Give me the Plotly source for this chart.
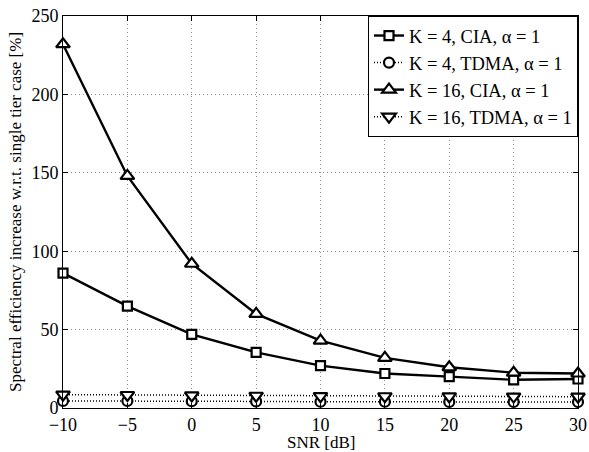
import plotly.graph_objects as go

snr = [-10, -5, 0, 5, 10, 15, 20, 25, 30]
k4_cia = [86, 65, 47, 35.5, 27, 22, 20, 18, 18.5]
k4_tdma = [4.5, 4.5, 4.3, 4.2, 4.0, 4.0, 3.9, 3.9, 3.8]
k16_cia = [232, 148, 92, 60, 43, 32, 26, 22.5, 22]
k16_tdma = [8.5, 8.3, 8.0, 7.8, 7.6, 7.5, 7.4, 7.3, 7.2]

names = ["K = 4, CIA, α = 1", "K = 4, TDMA, α = 1",
         "K = 16, CIA, α = 1", "K = 16, TDMA, α = 1"]
xticks = [-10, -5, 0, 5, 10, 15, 20, 25, 30]
yticks = [0, 50, 100, 150, 200, 250]

FONT = "Liberation Serif"
fig = go.Figure()

def add(y, name, symbol, dash, lw, size):
    fig.add_trace(go.Scatter(
        x=snr, y=y, name=name, mode="lines+markers", cliponaxis=False,
        line=dict(color="black", width=lw, dash=dash),
        marker=dict(symbol=symbol, size=size, color="white",
                    line=dict(color="black", width=2.2)),
    ))

add(k4_cia, names[0], "square", "solid", 2.4, 9)
add(k4_tdma, names[1], "circle", "1px,2px", 1.5, 10)
add(k16_cia, names[2], "triangle-up", "solid", 2.4, 12)
add(k16_tdma, names[3], "triangle-down", "1px,2px", 1.5, 12)

axis_common = dict(
    showline=True, linecolor="black", linewidth=1, mirror="allticks",
    ticks="inside", ticklen=5, tickcolor="black", automargin=False,
    showgrid=True, gridcolor="#8a8a8a", griddash="1px,3px", gridwidth=1,
    zeroline=False, tickfont=dict(family=FONT, size=18, color="black"),
)

fig.update_xaxes(range=[-10, 30], tickvals=xticks,
                 ticktext=[("−" + str(-v)) if v < 0 else str(v) for v in xticks],
                 **axis_common)
fig.update_yaxes(range=[0, 250], tickvals=yticks,
                 title=dict(text="Spectral efficiency increase w.r.t. single tier case [%]",
                            font=dict(family=FONT, size=17, color="black"), standoff=5),
                 **axis_common)

fig.add_annotation(text="SNR [dB]", xref="paper", yref="paper", x=0.5, y=-0.087,
                   xanchor="center", yanchor="middle", showarrow=False,
                   font=dict(family=FONT, size=17, color="black"))

fig.update_layout(
    width=589, height=452,
    margin=dict(l=63, r=11, t=16, b=44),
    paper_bgcolor="white", plot_bgcolor="white",
    font=dict(family=FONT, color="black"),
    legend=dict(x=1, y=1, xanchor="right", yanchor="top",
                bgcolor="white", bordercolor="black", borderwidth=1,
                font=dict(family=FONT, size=18.5, color="black"),
                tracegroupgap=0, itemwidth=30),
    showlegend=True,
)

fig.write_html("out.html", config={"displayModeBar": False},
               post_script="document.body.style.margin='0';document.body.style.overflow='hidden';")
